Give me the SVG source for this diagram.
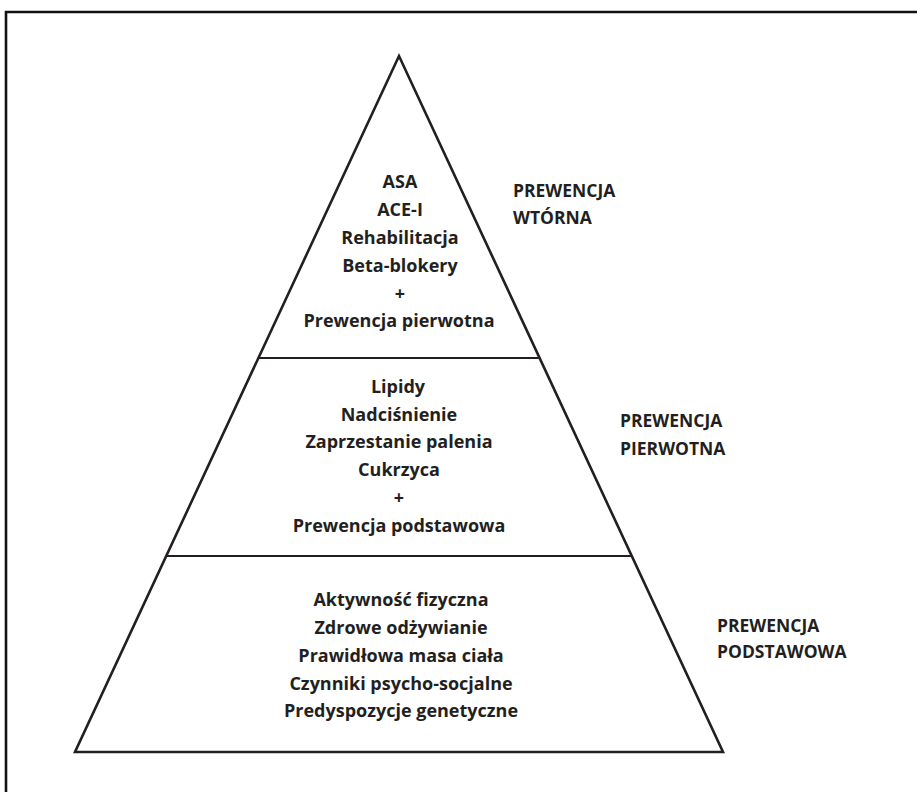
<svg xmlns="http://www.w3.org/2000/svg" width="917" height="792" viewBox="0 0 917 792">
<style>
.frame{fill:none;stroke:#111;stroke-width:2.6}
.edge{fill:none;stroke:#231f20;stroke-width:2.6;stroke-linejoin:miter}
.div{stroke:#231f20;stroke-width:2.2}
text{font-family:"Open Sans","Noto Sans","Liberation Sans",sans-serif;font-weight:bold;font-size:18px;fill:#231f20}
.c{text-anchor:middle}
.lab{font-size:17.5px}
</style>
<rect width="917" height="792" fill="#fff"/>
<path class="frame" d="M6,792 V12 H917"/>
<g id="connectors">
<polygon class="edge" points="399,56 75,752 723,752"/>
<line class="div" x1="259" y1="358" x2="539" y2="358"/>
<line class="div" x1="167" y1="556" x2="631" y2="556"/>
</g>
<g id="top">
<text class="c" x="400" y="188">ASA</text>
<text class="c" x="400" y="216">ACE-I</text>
<text class="c" x="400" y="244">Rehabilitacja</text>
<text class="c" x="400" y="272">Beta-blokery</text>
<text class="c" x="400" y="300">+</text>
<text class="c" x="399" y="327">Prewencja pierwotna</text>
</g>
<g id="middle">
<text class="c" x="398" y="393">Lipidy</text>
<text class="c" x="399" y="421">Nadciśnienie</text>
<text class="c" x="399" y="448">Zaprzestanie palenia</text>
<text class="c" x="399" y="476">Cukrzyca</text>
<text class="c" x="399" y="504">+</text>
<text class="c" x="399" y="532">Prewencja podstawowa</text>
</g>
<g id="bottom">
<text class="c" x="401" y="606">Aktywność fizyczna</text>
<text class="c" x="401" y="634">Zdrowe odżywianie</text>
<text class="c" x="401" y="662">Prawidłowa masa ciała</text>
<text class="c" x="401" y="690">Czynniki psycho-socjalne</text>
<text class="c" x="401" y="717">Predyspozycje genetyczne</text>
</g>
<g id="label-wtorna">
<text class="lab" x="513" y="197">PREWENCJA</text>
<text class="lab" x="513" y="224">WTÓRNA</text>
</g>
<g id="label-pierwotna">
<text class="lab" x="620" y="427">PREWENCJA</text>
<text class="lab" x="620" y="455">PIERWOTNA</text>
</g>
<g id="label-podstawowa">
<text class="lab" x="717" y="632">PREWENCJA</text>
<text class="lab" x="717" y="658">PODSTAWOWA</text>
</g>
</svg>
